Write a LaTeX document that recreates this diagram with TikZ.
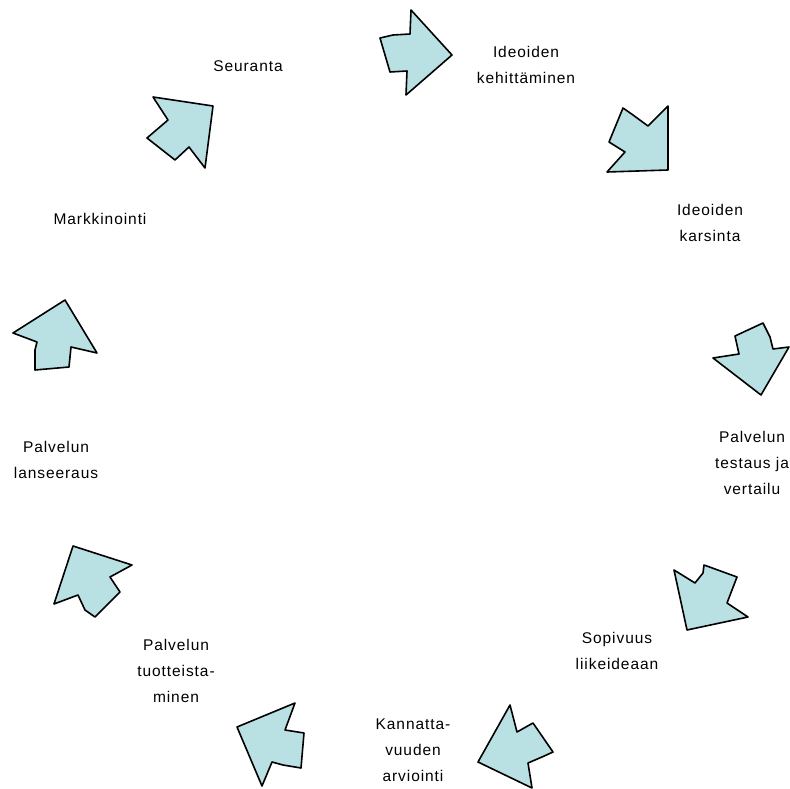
\documentclass[tikz,border=0pt]{standalone}
\usepackage{fontspec}
\setmainfont[LetterSpace=6]{Liberation Sans}
\definecolor{arrowfill}{RGB}{185,224,227}
\begin{document}
\begin{tikzpicture}[x=1pt,y=-1pt,
  arr/.style={draw=black,line width=1.6pt,line join=round,fill=arrowfill},
  lbl/.style={align=center,font=\fontsize{15.5}{26}\selectfont,inner sep=0pt}]
\useasboundingbox (0,0) rectangle (790,789);
% arrows
\draw[arr] (380,38) -- (393,35) -- (410,34) -- (411,10) -- (452,55) -- (406,95) -- (407,71) -- (390,72) -- cycle;
\draw[arr] (623,108) -- (633,115) -- (648,126) -- (668,106) -- (668,170) -- (607,172) -- (625,152) -- (609,142) -- cycle;
\draw[arr] (735,336) -- (763,323) -- (770,337) -- (773,349) -- (789,347) -- (761,395) -- (713,358) -- (739,354) -- cycle;
\draw[arr] (674,570) -- (695,583) -- (703,573) -- (704,565) -- (737,577) -- (727,603) -- (748,617) -- (687,630) -- cycle;
\draw[arr] (510,705) -- (517,732) -- (533,723) -- (553,752) -- (542,757) -- (528,763) -- (532,788) -- (478,762) -- cycle;
\draw[arr] (295,703) -- (285,730) -- (304,733) -- (301,768) -- (283,765) -- (272,762) -- (262,786) -- (237,727) -- cycle;
\draw[arr] (73,546) -- (132,565) -- (110,577) -- (120,592) -- (95,617) -- (85,610) -- (78,595) -- (54,604) -- cycle;
\draw[arr] (65,300) -- (97,353) -- (71,347) -- (69,367) -- (35,370) -- (35,350) -- (37,342) -- (13,333) -- cycle;
\draw[arr] (153,97) -- (213,106) -- (205,168) -- (189,147) -- (175,160) -- (147,138) -- (168,120) -- cycle;
% labels
\node[lbl] (seuranta) at (248,66) {Seuranta};
\node[lbl] (kehitt) at (526,65) {Ideoiden\\kehittäminen};
\node[lbl] (karsinta) at (710,223) {Ideoiden\\karsinta};
\node[lbl] (testaus) at (752,463) {Palvelun\\testaus ja\\vertailu};
\node[lbl] (sopivuus) at (617,651) {Sopivuus\\liikeideaan};
\node[lbl] (kannatta) at (413,750) {Kannatta-\\vuuden\\arviointi};
\node[lbl] (tuott) at (176,671) {Palvelun\\tuotteista-\\minen};
\node[lbl] (lanseeraus) at (56,460) {Palvelun\\lanseeraus};
\node[lbl] (markk) at (100,219) {Markkinointi};
\end{tikzpicture}
\end{document}
